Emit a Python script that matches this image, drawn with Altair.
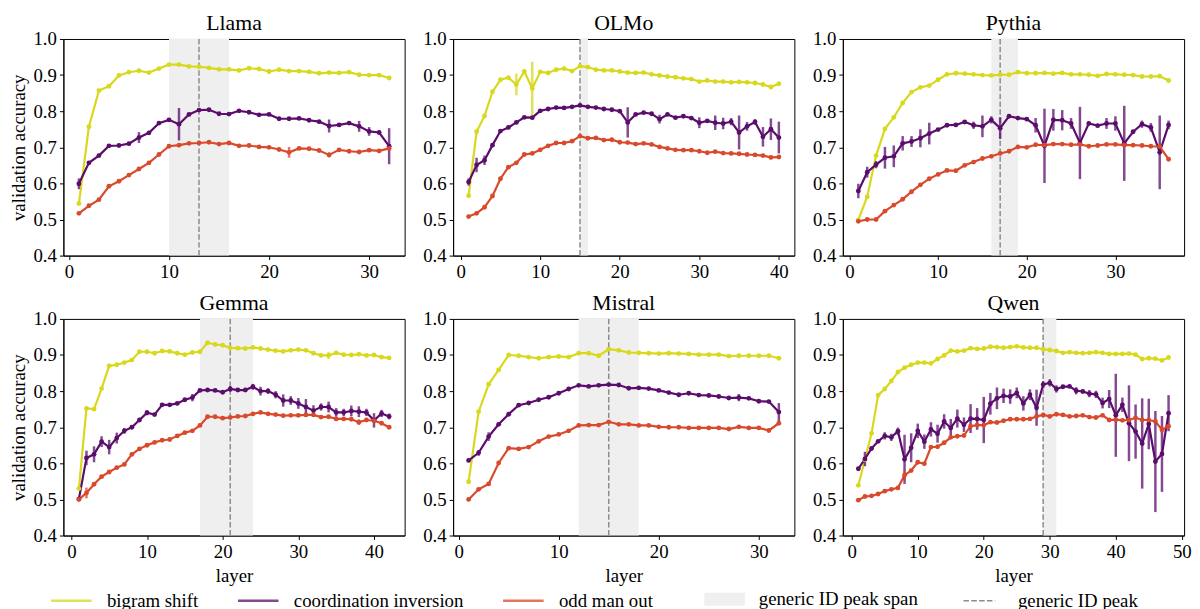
import altair as alt
import pandas as pd

FONT = "'Liberation Serif', 'Times New Roman', Times, 'DejaVu Serif', serif"
SERIES = ["bigram shift", "coordination inversion", "odd man out"]
SERIES_COLORS = ["#d8d81c", "#5b0d6c", "#d9492b"]
SPAN_LABEL = "generic ID peak span"
PEAK_LABEL = "generic ID peak"
Y_TICKS = [0.4, 0.5, 0.6, 0.7, 0.8, 0.9, 1.0]

# ---------------- Llama ----------------
llama_bigram = [0.544, 0.757, 0.857, 0.869, 0.899, 0.908, 0.912, 0.907, 0.918, 0.929,
                0.929, 0.924, 0.923, 0.920, 0.916, 0.916, 0.913, 0.919, 0.917, 0.910,
                0.915, 0.911, 0.911, 0.909, 0.905, 0.907, 0.906, 0.908, 0.901, 0.900,
                0.900, 0.892]
llama_bigram_err = {20: 0.006}
llama_coord = [0.599, 0.657, 0.677, 0.704, 0.705, 0.710, 0.727, 0.740, 0.767, 0.776,
               0.764, 0.791, 0.803, 0.804, 0.793, 0.792, 0.801, 0.797, 0.790, 0.791,
               0.779, 0.779, 0.780, 0.775, 0.771, 0.759, 0.762, 0.767, 0.758, 0.744,
               0.741, 0.703]
llama_coord_err = {1: 0.015, 7: 0.015, 11: 0.045, 26: 0.018, 29: 0.015, 30: 0.012, 32: 0.05}
llama_odd = [0.517, 0.538, 0.555, 0.592, 0.606, 0.623, 0.640, 0.657, 0.680, 0.703,
             0.706, 0.711, 0.712, 0.714, 0.709, 0.712, 0.704, 0.705, 0.701, 0.700,
             0.694, 0.686, 0.697, 0.696, 0.691, 0.679, 0.693, 0.689, 0.687, 0.692,
             0.690, 0.697]
llama_odd_err = {22: 0.015, 26: 0.007}

# ---------------- OLMo ----------------
olmo_bigram = [0.566, 0.743, 0.787, 0.854, 0.887, 0.893, 0.874, 0.910, 0.863, 0.909,
               0.906, 0.915, 0.918, 0.911, 0.925, 0.922, 0.915, 0.913, 0.913, 0.910,
               0.907, 0.906, 0.907, 0.902, 0.899, 0.896, 0.894, 0.891, 0.889, 0.882,
               0.885, 0.882, 0.882, 0.880, 0.881, 0.880, 0.878, 0.874, 0.867, 0.876]
olmo_bigram_err = {7: 0.03, 9: 0.074}
olmo_coord = [0.604, 0.651, 0.664, 0.706, 0.745, 0.755, 0.769, 0.783, 0.782, 0.801,
              0.806, 0.810, 0.809, 0.812, 0.816, 0.812, 0.810, 0.806, 0.804, 0.800,
              0.769, 0.791, 0.796, 0.793, 0.778, 0.791, 0.782, 0.786, 0.781, 0.768,
              0.773, 0.768, 0.766, 0.771, 0.741, 0.758, 0.770, 0.729, 0.750, 0.727]
olmo_coord_err = {1: 0.01, 2: 0.02, 3: 0.013, 21: 0.042, 25: 0.012, 30: 0.015, 32: 0.02,
                  33: 0.016, 34: 0.01, 35: 0.047, 36: 0.012, 37: 0.008, 38: 0.027,
                  39: 0.03, 40: 0.044}
olmo_odd = [0.508, 0.517, 0.534, 0.565, 0.613, 0.645, 0.657, 0.680, 0.683, 0.693,
            0.704, 0.712, 0.712, 0.717, 0.731, 0.725, 0.726, 0.720, 0.721, 0.714,
            0.713, 0.709, 0.711, 0.708, 0.701, 0.697, 0.693, 0.692, 0.692, 0.689,
            0.685, 0.688, 0.684, 0.683, 0.682, 0.680, 0.679, 0.677, 0.672, 0.673]
olmo_odd_err = {}

# ---------------- Pythia ----------------
pythia_bigram = [0.499, 0.563, 0.677, 0.751, 0.783, 0.823, 0.853, 0.866, 0.871, 0.887,
                 0.902, 0.905, 0.904, 0.902, 0.900, 0.899, 0.901, 0.901, 0.908, 0.905,
                 0.905, 0.906, 0.904, 0.906, 0.902, 0.902, 0.901, 0.898, 0.903, 0.902,
                 0.901, 0.900, 0.896, 0.896, 0.897, 0.885]
pythia_bigram_err = {}
pythia_coord = [0.579, 0.631, 0.652, 0.671, 0.675, 0.711, 0.716, 0.725, 0.738, 0.749,
                0.761, 0.762, 0.770, 0.761, 0.758, 0.776, 0.753, 0.786, 0.781, 0.778,
                0.761, 0.704, 0.776, 0.775, 0.766, 0.712, 0.766, 0.760, 0.766, 0.766,
                0.711, 0.743, 0.764, 0.755, 0.686, 0.762]
pythia_coord_err = {1: 0.02, 2: 0.015, 3: 0.01, 4: 0.03, 5: 0.03, 6: 0.02, 7: 0.015,
                    8: 0.025, 9: 0.03, 14: 0.01, 15: 0.03, 16: 0.01, 17: 0.03, 21: 0.02,
                    22: 0.103, 23: 0.03, 24: 0.028, 25: 0.015, 26: 0.1, 29: 0.015,
                    30: 0.02, 31: 0.104, 33: 0.01, 34: 0.012, 35: 0.102, 36: 0.012}
pythia_odd = [0.495, 0.500, 0.500, 0.523, 0.540, 0.556, 0.577, 0.596, 0.613, 0.625,
              0.636, 0.635, 0.650, 0.659, 0.669, 0.675, 0.683, 0.689, 0.701, 0.700,
              0.707, 0.706, 0.709, 0.709, 0.707, 0.708, 0.703, 0.705, 0.708, 0.708,
              0.706, 0.706, 0.705, 0.703, 0.702, 0.667]
pythia_odd_err = {}

# ---------------- Gemma ----------------
gemma_bigram = [0.530, 0.752, 0.750, 0.807, 0.870, 0.873, 0.879, 0.886, 0.909, 0.909,
                0.905, 0.911, 0.910, 0.905, 0.901, 0.907, 0.909, 0.934, 0.929, 0.927,
                0.920, 0.919, 0.918, 0.921, 0.918, 0.915, 0.912, 0.910, 0.913, 0.915,
                0.913, 0.905, 0.899, 0.899, 0.906, 0.901, 0.900, 0.902, 0.899, 0.900,
                0.894, 0.892]
gemma_bigram_err = {34: 0.01}
gemma_coord = [0.501, 0.615, 0.625, 0.660, 0.645, 0.670, 0.690, 0.700, 0.720, 0.740,
               0.735, 0.762, 0.762, 0.766, 0.776, 0.782, 0.802, 0.803, 0.802, 0.797,
               0.806, 0.803, 0.803, 0.812, 0.800, 0.800, 0.790, 0.774, 0.774, 0.766,
               0.756, 0.746, 0.756, 0.756, 0.741, 0.741, 0.745, 0.743, 0.741, 0.719,
               0.738, 0.730]
gemma_coord_err = {2: 0.02, 3: 0.022, 4: 0.015, 5: 0.02, 6: 0.015, 7: 0.008, 10: 0.007,
                   16: 0.01, 21: 0.008, 24: 0.008, 25: 0.012, 26: 0.008, 27: 0.01,
                   28: 0.017, 29: 0.012, 30: 0.015, 31: 0.022, 32: 0.015, 33: 0.01,
                   34: 0.015, 35: 0.012, 36: 0.01, 37: 0.015, 38: 0.015, 39: 0.01,
                   40: 0.02, 41: 0.01, 42: 0.008}
gemma_odd = [0.500, 0.518, 0.542, 0.563, 0.576, 0.588, 0.597, 0.625, 0.640, 0.650,
             0.658, 0.664, 0.666, 0.676, 0.685, 0.690, 0.705, 0.729, 0.729, 0.725,
             0.727, 0.730, 0.731, 0.737, 0.741, 0.737, 0.735, 0.732, 0.733, 0.733,
             0.734, 0.734, 0.728, 0.729, 0.723, 0.723, 0.722, 0.714, 0.720, 0.718,
             0.711, 0.700]
gemma_odd_err = {2: 0.015, 38: 0.008}

# ---------------- Mistral ----------------
mistral_bigram = [0.549, 0.743, 0.819, 0.859, 0.900, 0.898, 0.894, 0.891, 0.894, 0.896,
                  0.894, 0.905, 0.905, 0.898, 0.916, 0.913, 0.907, 0.906, 0.905, 0.904,
                  0.905, 0.904, 0.903, 0.901, 0.901, 0.901, 0.897, 0.898, 0.898, 0.898,
                  0.898, 0.891]
mistral_bigram_err = {}
mistral_coord = [0.608, 0.629, 0.674, 0.708, 0.736, 0.761, 0.767, 0.776, 0.783, 0.794,
                 0.806, 0.816, 0.813, 0.816, 0.818, 0.817, 0.808, 0.809, 0.807, 0.802,
                 0.796, 0.790, 0.794, 0.789, 0.788, 0.785, 0.781, 0.782, 0.780, 0.772,
                 0.771, 0.742]
mistral_coord_err = {2: 0.008, 3: 0.012, 28: 0.01, 32: 0.025}
mistral_odd = [0.500, 0.528, 0.543, 0.601, 0.642, 0.640, 0.645, 0.661, 0.674, 0.680,
               0.690, 0.705, 0.706, 0.706, 0.715, 0.708, 0.708, 0.705, 0.705, 0.701,
               0.700, 0.700, 0.698, 0.698, 0.698, 0.698, 0.695, 0.701, 0.698, 0.698,
               0.691, 0.711]
mistral_odd_err = {}

# ---------------- Qwen ----------------
qwen_bigram = [0.539, 0.610, 0.683, 0.789, 0.806, 0.828, 0.853, 0.865, 0.873, 0.879,
               0.879, 0.877, 0.889, 0.899, 0.912, 0.910, 0.912, 0.919, 0.917, 0.918,
               0.923, 0.922, 0.920, 0.922, 0.924, 0.921, 0.920, 0.920, 0.916, 0.914,
               0.911, 0.906, 0.908, 0.906, 0.905, 0.906, 0.908, 0.906, 0.903, 0.903,
               0.903, 0.904, 0.901, 0.889, 0.891, 0.890, 0.885, 0.893]
qwen_bigram_err = {}
qwen_coord = [0.585, 0.612, 0.641, 0.661, 0.676, 0.672, 0.689, 0.611, 0.643, 0.690,
              0.660, 0.694, 0.682, 0.716, 0.698, 0.724, 0.707, 0.724, 0.723, 0.720,
              0.765, 0.780, 0.787, 0.785, 0.795, 0.766, 0.790, 0.754, 0.818, 0.823,
              0.806, 0.812, 0.813, 0.801, 0.799, 0.793, 0.791, 0.767, 0.778, 0.733,
              0.762, 0.711, 0.688, 0.655, 0.709, 0.605, 0.626, 0.739]
qwen_coord_err = {2: 0.02, 5: 0.01, 6: 0.01, 7: 0.01, 8: 0.068, 9: 0.04, 10: 0.02,
                  11: 0.02, 12: 0.02, 13: 0.025, 14: 0.02, 15: 0.025, 16: 0.025,
                  17: 0.02, 18: 0.04, 19: 0.03, 20: 0.064, 21: 0.03, 22: 0.03,
                  23: 0.02, 24: 0.02, 25: 0.015, 26: 0.02, 27: 0.015, 28: 0.05,
                  29: 0.01, 30: 0.01, 31: 0.01, 34: 0.01, 36: 0.01, 37: 0.01,
                  38: 0.015, 39: 0.025, 40: 0.115, 41: 0.02, 42: 0.105, 43: 0.075,
                  44: 0.125, 45: 0.07, 46: 0.14, 47: 0.105, 48: 0.05}
qwen_odd = [0.498, 0.508, 0.510, 0.515, 0.523, 0.528, 0.532, 0.567, 0.580, 0.603,
            0.599, 0.645, 0.646, 0.657, 0.672, 0.675, 0.677, 0.703, 0.706, 0.706,
            0.714, 0.713, 0.718, 0.722, 0.722, 0.722, 0.723, 0.730, 0.734, 0.730,
            0.736, 0.734, 0.730, 0.731, 0.733, 0.728, 0.727, 0.733, 0.720, 0.721,
            0.719, 0.720, 0.726, 0.720, 0.720, 0.716, 0.693, 0.703]
qwen_odd_err = {8: 0.012, 47: 0.01}

MODELS = ["Llama", "OLMo", "Pythia", "Gemma", "Mistral", "Qwen"]
DATA = {
    "Llama": [(llama_bigram, llama_bigram_err), (llama_coord, llama_coord_err), (llama_odd, llama_odd_err)],
    "OLMo": [(olmo_bigram, olmo_bigram_err), (olmo_coord, olmo_coord_err), (olmo_odd, olmo_odd_err)],
    "Pythia": [(pythia_bigram, pythia_bigram_err), (pythia_coord, pythia_coord_err), (pythia_odd, pythia_odd_err)],
    "Gemma": [(gemma_bigram, gemma_bigram_err), (gemma_coord, gemma_coord_err), (gemma_odd, gemma_odd_err)],
    "Mistral": [(mistral_bigram, mistral_bigram_err), (mistral_coord, mistral_coord_err), (mistral_odd, mistral_odd_err)],
    "Qwen": [(qwen_bigram, qwen_bigram_err), (qwen_coord, qwen_coord_err), (qwen_odd, qwen_odd_err)],
}
PEAK_SPANS = {"Llama": (10, 16), "OLMo": (15, 16), "Pythia": (16, 19),
              "Gemma": (17, 24), "Mistral": (12, 18), "Qwen": (29, 31)}
PEAKS = {"Llama": 13, "OLMo": 15, "Pythia": 17, "Gemma": 21, "Mistral": 15, "Qwen": 29}
X_TICKS = {"Llama": [0, 10, 20, 30], "OLMo": [0, 10, 20, 30, 40], "Pythia": [0, 10, 20, 30],
           "Gemma": [0, 10, 20, 30, 40], "Mistral": [0, 10, 20, 30], "Qwen": [0, 10, 20, 30, 40, 50]}

PANEL_W, PANEL_H = 345, 219

color_scale = alt.Scale(domain=SERIES, range=SERIES_COLORS)
color_legend = alt.Legend(title=None, orient="none", direction="horizontal",
                          legendX=-14, legendY=546, symbolType="stroke", symbolSize=1681,
                          symbolStrokeWidth=2.5, labelOffset=14, columnPadding=34,
                          labelLimit=400)
span_legend = alt.Legend(title=None, orient="none", direction="horizontal",
                         legendX=648, legendY=546, symbolType="M-1,-0.32H1V0.32H-1Z",
                         symbolSize=1681, symbolStrokeWidth=0, labelOffset=14, labelLimit=400)
peak_legend = alt.Legend(title=None, orient="none", direction="horizontal",
                         legendX=909, legendY=551, symbolType="stroke", symbolSize=1024,
                         symbolStrokeWidth=1.5, symbolStrokeColor="#8c8c8c",
                         symbolDash=[5.5, 2.4], labelOffset=22, labelLimit=400)


def long_frame(model):
    rows = []
    for name, (vals, errs) in zip(SERIES, DATA[model]):
        for i, v in enumerate(vals, start=1):
            e = errs.get(i, 0.0)
            rows.append({"layer": i, "series": name, "value": v, "err": e,
                         "lo": v - e, "hi": v + e})
    return pd.DataFrame(rows)


def panel(model, left, bottom):
    df = long_frame(model)
    n = int(df["layer"].max())
    m = 0.05 * (n - 1)
    xs = alt.Scale(domain=[1 - m, n + m], nice=False, zero=False)
    ys = alt.Scale(domain=[0.4, 1.0], nice=False, zero=False)
    xaxis = alt.Axis(values=X_TICKS[model], title="layer" if bottom else None, format="d",
                     titlePadding=5, labelFlush=False)
    yaxis = alt.Axis(values=Y_TICKS, title="validation accuracy" if left else None,
                     format=".1f", titlePadding=5)

    s0, s1 = PEAK_SPANS[model]
    span_df = pd.DataFrame({"start": [s0], "end": [s1], "lo": [0.4], "hi": [1.0],
                            "lab": [SPAN_LABEL]})
    span = alt.Chart(span_df).mark_rect().encode(
        x=alt.X("start:Q", scale=xs, axis=xaxis), x2="end:Q",
        y=alt.Y("lo:Q", scale=ys, axis=yaxis), y2="hi:Q",
        fill=alt.Fill("lab:N", scale=alt.Scale(domain=[SPAN_LABEL], range=["#efefef"]),
                      legend=span_legend),
    )
    peak_df = pd.DataFrame({"peak": [PEAKS[model]], "lab": [PEAK_LABEL]})
    peak = alt.Chart(peak_df).mark_rule(color="#8c8c8c", strokeWidth=1.5).encode(
        x=alt.X("peak:Q", scale=xs, axis=xaxis),
        strokeDash=alt.StrokeDash("lab:N", scale=alt.Scale(domain=[PEAK_LABEL], range=[[5.5, 2.4]]),
                                  legend=peak_legend),
    )
    base = alt.Chart(df)
    X = alt.X("layer:Q", scale=xs, axis=xaxis)
    Y = alt.Y("value:Q", scale=ys, axis=yaxis)
    C = alt.Color("series:N", scale=color_scale, legend=color_legend)
    line = base.mark_line(strokeWidth=2.2).encode(x=X, y=Y, color=C)
    errs = base.transform_filter("datum.err > 0").mark_rule(strokeWidth=2.5, opacity=0.75).encode(
        x=X, y=alt.Y("lo:Q", scale=ys, axis=yaxis), y2="hi:Q", color=C,
    )
    pts = base.mark_circle(size=24, opacity=1).encode(x=X, y=Y, color=C)
    return alt.layer(span, peak, line, errs, pts).properties(
        width=PANEL_W, height=PANEL_H,
        title=alt.TitleParams(model, anchor="middle"),
    )


row1 = alt.hconcat(panel("Llama", True, False), panel("OLMo", False, False),
                   panel("Pythia", False, False), spacing=16)
row2 = alt.hconcat(panel("Gemma", True, True), panel("Mistral", False, True),
                   panel("Qwen", False, True), spacing=16)

chart = alt.vconcat(row1, row2, spacing=9).properties(
    padding={"left": 0, "top": 0, "right": 0, "bottom": 0}
).configure_axis(
    labelFont=FONT, titleFont=FONT, labelFontSize=19, titleFontSize=19,
    titleFontWeight="normal", labelColor="black", titleColor="black",
    domainColor="black", tickColor="black", tickSize=4, labelPadding=3, grid=False,
).configure_title(
    font=FONT, fontSize=22, fontWeight="normal", color="black", offset=-5,
).configure_view(
    stroke="black", strokeWidth=1,
).configure_legend(
    labelFont=FONT, labelFontSize=19, labelColor="black",
)

chart.save("out.html", embed_options={"renderer": "svg", "actions": False})
